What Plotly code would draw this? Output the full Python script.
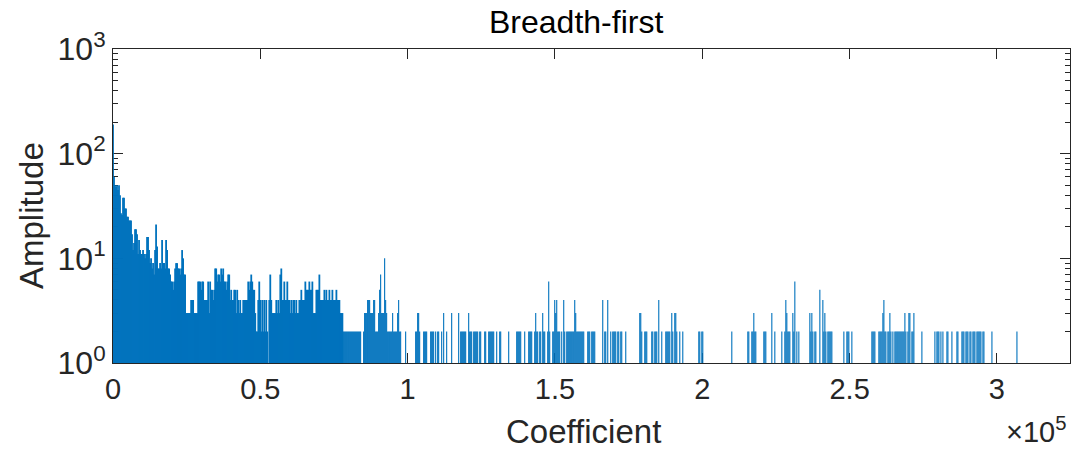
import numpy as np
import plotly.graph_objects as go

# ---- data ----
# dense low-coefficient part: peak amplitude per reading step of 340 coefficients
dense_step = 340
dense_amp = [
    190, 60, 50, 48, 50, 45, 50, 40, 27, 26,
    38, 38, 30, 30, 25, 25, 23, 23, 23, 17,
    12, 14, 19, 19, 17, 11, 15, 12, 11, 11,
    12, 11, 10, 11, 16, 16, 12, 9, 10, 8,
    9, 7, 12, 21, 13, 8, 8, 9, 8, 15,
    9, 9, 8, 15, 12, 8, 8, 7, 6, 6,
    5, 6, 8, 9, 9, 8, 8, 7, 8, 12,
    10, 7, 7, 3, 3, 3, 3, 3, 4, 4,
    4, 3, 3, 3, 3, 6, 6, 6, 5, 6,
    6, 4, 4, 4, 4, 6, 3, 6, 5, 5,
    4, 5, 8, 8, 6, 7, 7, 6, 8, 7,
    8, 6, 6, 5, 6, 7, 7, 4, 5, 4,
    4, 5, 5, 3, 5, 4, 3, 4, 3, 3,
    4, 4, 4, 4, 4, 6, 5, 6, 7, 6,
    5, 5, 3, 2, 2, 4, 6, 4, 2, 4,
    2, 4, 2, 4, 2, 1, 4, 7, 4, 3,
    3, 3, 3, 4, 3, 4, 3, 7, 8, 4,
    4, 6, 4, 4, 6, 4, 4, 3, 4, 3,
    4, 4, 3, 4, 3, 3, 4, 4, 5, 4,
    4, 4, 6, 5, 5, 5, 6, 5, 5, 6,
    3, 3, 3, 5, 5, 5, 7, 4, 4, 4,
    4, 5, 4, 5, 4, 4, 5, 4, 4, 5,
    4, 4, 4, 5, 4, 4, 4, 3, 3, 3,
]

# sparse part: coefficient index and amplitude of each visible spike
sparse_idx = [
    77929, 78269, 78608, 78948, 79287, 79627, 79966, 80306, 80646, 80985,
    81325, 81664, 82004, 82343, 82683, 83022, 83362, 83702, 84041,
    85060, 85399, 85739, 86079, 86418, 86758, 87097, 87437, 87776, 88116,
    88455, 88795, 89135, 89474, 89814,
    90153, 90493, 90832, 91172, 91511, 91851, 92191, 92530, 92870, 93209,
    93549, 93888, 94228, 94568, 94907, 95247, 95586, 95926, 96265, 96605,
    96944, 97284, 97624,
    99321, 102717, 103057, 103396, 103736, 104075, 105433, 105773, 106113, 106452,
    107810, 108150, 108489, 108829, 109508, 110187, 110527, 111546, 112225, 113243,
    114941, 117318, 117997, 118337, 118676, 119016, 119355, 119695, 120714, 121053,
    121393, 121732, 122411, 122751, 123090, 123430, 123770, 124449, 124788, 126147,
    126486, 127505, 127844, 128184, 128524, 128863, 129203, 130221, 131240, 131580,
    134296,
    137013, 137352, 137692, 138031, 138371, 139729, 141087, 141427, 141766, 142106,
    143125, 143464, 143804, 144143, 144822, 145162, 145841, 146181, 146520, 147539,
    147878, 148218, 149237, 149576, 149916, 150255, 150595, 150934, 151274, 151614,
    152293, 152972, 153311, 153991, 154330, 154670, 155009, 155349, 155688, 156028,
    156367, 156707, 157047, 157386, 157726, 158065, 158405, 158744, 159084, 159423,
    159763, 161121, 161461, 161800, 162479, 162819, 163158, 163498, 166215, 166894,
    167233, 167912, 168931, 169610, 169950, 170289, 170629, 171308, 171648, 172327,
    172666, 174025, 178778, 179118, 179457, 180476, 180816, 181155, 182853, 183193,
    183872, 184211, 184551, 185230, 186249, 187607, 187947, 188286, 188626, 188965,
    189644, 189984, 190663, 191003, 191342, 192361, 193380, 198812, 199152, 199831,
    200171, 210018, 215451, 215790, 216809, 217149, 217488, 217828, 218167, 220884,
    221223, 221563, 223600, 224619, 226996, 228015, 228354, 228694, 229033, 229373,
    229713, 230731, 231071, 231410, 232090, 232769, 236504, 236843, 237183, 237522,
    238201, 238541, 239899, 240918, 241257, 241597, 241936, 242616, 242955, 243295,
    243634, 243974, 248049, 249068, 249407, 249747, 250765, 257556, 257896, 258235,
    258575, 259933, 260273, 260612, 260952, 261291, 261631, 261971, 262310, 262989,
    263329, 263668, 264008, 264687, 265366, 265706, 266046, 266385, 266725, 267064,
    267404, 267743, 268083, 268422, 268762, 269101, 269780, 270120, 270460, 271139,
    271478, 271818, 274534, 278949, 279628, 279968, 280307, 280986, 281665, 283024,
    283363, 284721, 286419, 286758, 288116, 288456, 288795, 289475, 289814, 290154,
    290833, 291172, 291852, 292191, 292531, 293210, 293549, 293889, 294229, 294568,
    295247, 295587, 298304, 306793, 308491, 309849,
]
sparse_amp = [
    2, 2, 2, 2, 2, 2, 2, 2, 2, 2,
    2, 2, 2, 2, 2, 2, 2, 2, 2,
    2, 3, 3, 3, 4, 4, 4, 3, 3, 3,
    4, 4, 2, 2, 2,
    3, 5, 7, 3, 3, 3, 10, 4, 3, 2,
    2, 2, 2, 2, 3, 2, 2, 2, 2, 3,
    4, 2, 2,
    2, 2, 2, 3, 3, 2, 2, 2, 2, 2,
    2, 2, 2, 2, 2, 2, 2, 2, 3, 2,
    3, 3, 2, 2, 2, 2, 2, 2, 3, 2,
    2, 2, 2, 2, 2, 2, 2, 2, 2, 2,
    2, 2, 2, 2, 2, 2, 2, 2, 2, 2,
    2,
    2, 2, 2, 2, 2, 2, 2, 2, 2, 2,
    2, 3, 2, 2, 2, 2, 3, 2, 2, 2,
    6, 2, 2, 2, 4, 3, 4, 2, 2, 2,
    2, 4, 2, 2, 2, 2, 2, 2, 2, 2,
    2, 4, 3, 2, 2, 2, 2, 2, 2, 2,
    2, 2, 2, 2, 2, 2, 2, 2, 4, 2,
    2, 4, 2, 2, 2, 2, 2, 2, 2, 2,
    2, 2, 3, 3, 2, 2, 2, 2, 2, 2,
    2, 2, 2, 4, 2, 2, 2, 2, 2, 2,
    3, 2, 3, 3, 2, 2, 2, 2, 2, 2,
    2, 2, 2, 2, 2, 2, 3, 2, 2, 2,
    2, 2, 3, 2, 2, 2, 4, 3, 2, 2,
    2, 3, 2, 6, 2, 2, 3, 2, 3,
    2, 2, 2, 5, 4, 2, 3, 2, 2, 2,
    2, 2, 2, 2, 2, 2, 2, 2, 2, 2,
    2, 2, 2, 2, 2, 2, 3, 4, 2,
    2, 2, 2, 3, 2, 2, 2, 2, 2, 2,
    2, 2, 2, 2, 2, 2, 3, 2, 2, 3,
    3, 2, 2, 3, 2, 2, 2, 2, 2, 2,
    2, 2, 2, 2, 2, 2, 2, 2, 2, 2,
    2, 2, 2, 2, 2, 2, 2, 2, 2, 2,
    2, 2, 2, 2, 2, 2,
]

x_tick_vals = [0, 50000, 100000, 150000, 200000, 250000, 300000]
x_tick_text = ["0", "0.5", "1", "1.5", "2", "2.5", "3"]
y_tick_vals = [1, 10, 100, 1000]
y_tick_text = ["10<sup>0</sup>", "10<sup>1</sup>", "10<sup>2</sup>", "10<sup>3</sup>"]
y_minor_vals = [m * d for d in (1, 10, 100) for m in range(2, 10)]

n_sp = min(len(sparse_idx), len(sparse_amp))
dense_idx = list(np.arange(len(dense_amp)) * dense_step)
floor = 1

def stems(ix, av):
    xs, ys = [], []
    for i, a in zip(ix, av):
        xs += [i, i, None]
        ys += [floor, a, None]
    return xs, ys

BLUE = "#0072BD"
AX = "#262626"
FONT = "Liberation Sans, Arial, Helvetica, sans-serif"

fig = go.Figure()
dx, dy = stems(dense_idx, dense_amp)
fig.add_trace(go.Scatter(x=dx, y=dy, mode="lines",
                         line=dict(color=BLUE, width=1.8),
                         hoverinfo="skip", showlegend=False, cliponaxis=False))
sx, sy = stems(sparse_idx[:n_sp], sparse_amp[:n_sp])
fig.add_trace(go.Scatter(x=sx, y=sy, mode="lines",
                         line=dict(color=BLUE, width=1.1),
                         hoverinfo="skip", showlegend=False))

W, H = 1073, 452
L, R, T, B = 113, 3, 49, 89
pw, ph = W - L - R, H - T - B

def px(xp):
    return (xp - L) / pw

def py(yp):
    return (H - B - yp) / ph

fig.update_layout(
    width=W, height=H,
    margin=dict(l=L, r=R, t=T, b=B, autoexpand=False),
    paper_bgcolor="white", plot_bgcolor="white",
    font=dict(family=FONT, color=AX, size=30),
    showlegend=False,
)
fig.update_xaxes(
    range=[0, 324800], showgrid=False, zeroline=False, automargin=False,
    showline=True, linecolor=AX, linewidth=1, mirror="ticks",
    ticks="inside", ticklen=10, tickcolor=AX, tickwidth=1,
    tickmode="array", tickvals=x_tick_vals, ticktext=x_tick_text,
    tickfont=dict(size=29, color=AX), layer="below traces",
)
fig.update_yaxes(
    type="log", range=[0, 3], showgrid=False, zeroline=False, automargin=False,
    showline=True, linecolor=AX, linewidth=1, mirror="ticks",
    ticks="inside", ticklen=10, tickcolor=AX, tickwidth=1,
    tickmode="array", tickvals=y_tick_vals, ticktext=y_tick_text,
    tickfont=dict(size=32, color=AX), layer="below traces",
    minor=dict(tickmode="array", tickvals=y_minor_vals, ticks="inside",
               ticklen=5, tickcolor=AX, showgrid=False),
)
# right-hand box side with the same log ticks (MATLAB box on)
fig.update_layout(yaxis2=dict(
    overlaying="y", side="right", type="log", range=[0, 3],
    showgrid=False, zeroline=False, automargin=False,
    showline=False, ticks="inside", ticklen=10, tickcolor=AX, tickwidth=1,
    tickmode="array", tickvals=y_tick_vals, showticklabels=False,
    minor=dict(tickmode="array", tickvals=y_minor_vals, ticks="inside",
               ticklen=5, tickcolor=AX, showgrid=False),
))
fig.add_trace(go.Scatter(x=[None], y=[None], yaxis="y2", showlegend=False,
                         hoverinfo="skip"))

ann = dict(xref="paper", yref="paper", showarrow=False)
fig.add_annotation(text="Breadth-first", x=px(576), y=py(22), xanchor="center",
                   yanchor="middle", font=dict(family=FONT, size=32, color="black"), **ann)
fig.add_annotation(text="Coefficient", x=px(583), y=py(431), xanchor="center",
                   yanchor="middle", font=dict(family=FONT, size=33, color=AX), **ann)
fig.add_annotation(text="Amplitude", x=px(31), y=py(216), xanchor="center",
                   yanchor="middle", textangle=-90,
                   font=dict(family=FONT, size=33, color=AX), **ann)
fig.add_annotation(text="\u00d710<sup>5</sup>", x=px(1068), y=py(430), xanchor="right",
                   yanchor="middle", font=dict(family=FONT, size=29, color=AX), **ann)

fig.write_html("out.html", config={"displayModeBar": False},
               post_script="document.body.style.margin='0px';document.body.style.overflow='hidden';")
